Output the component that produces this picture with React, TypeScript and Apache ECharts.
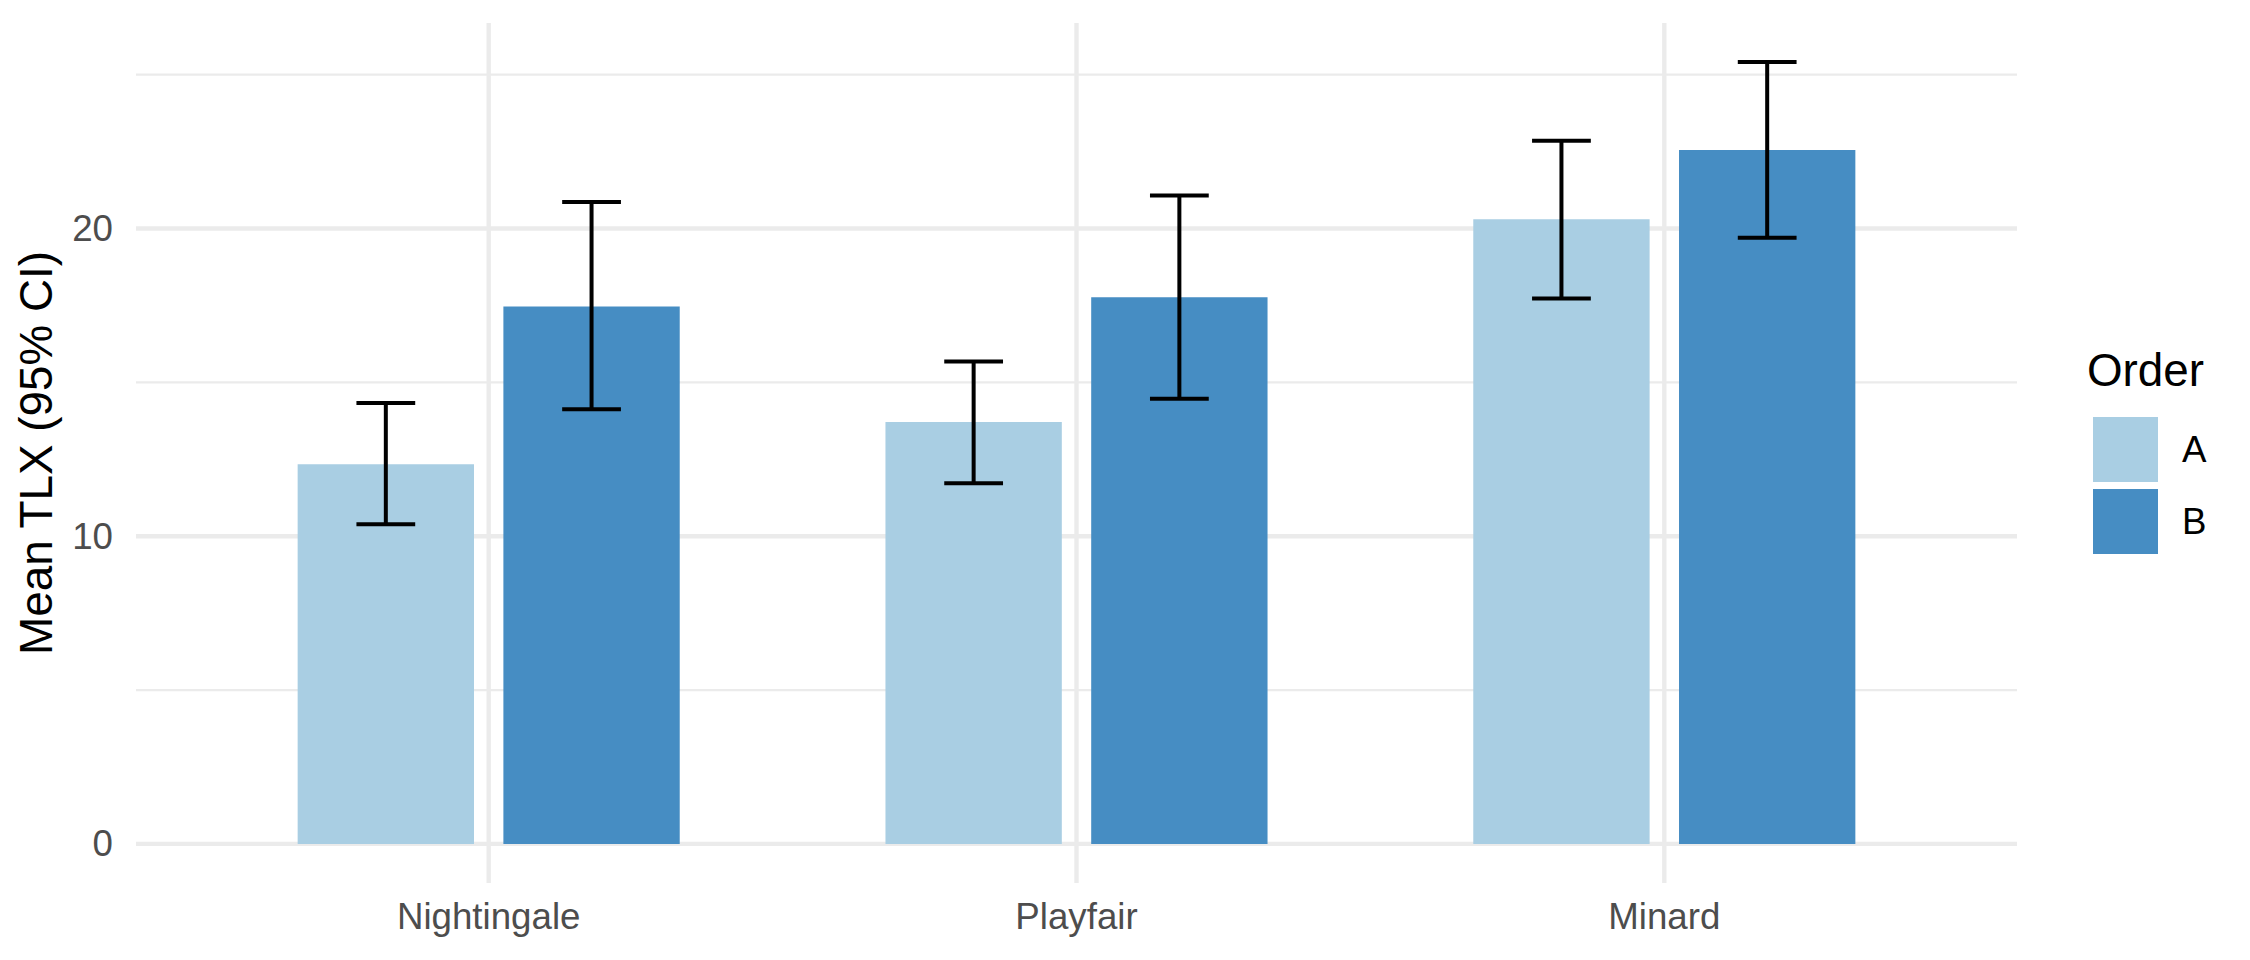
import React, { useEffect, useRef } from "react";
import * as echarts from "echarts";

const categories = ["Nightingale", "Playfair", "Minard"];
const groups = ["A", "B"];
const meanA = [12.34, 13.71, 20.3];
const lowA = [10.39, 11.72, 17.73];
const highA = [14.33, 15.68, 22.85];
const meanB = [17.47, 17.77, 22.55];
const lowB = [14.13, 14.47, 19.7];
const highB = [20.86, 21.07, 25.41];
const yMajorTicks = [0, 10, 20];
const yMinorTicks = [5, 15, 25];
const yMin = -1.27;
const yMax = 26.68;

const FONT = "'Liberation Sans', Arial, Helvetica, sans-serif";
const COLOR_A = "#A9CEE3";
const COLOR_B = "#468DC3";
const GRID_COLOR = "#EBEBEB";

const DODGE = 0.175;
const BAR_W = 0.3;
const CAP_W = 0.1;

export default function App() {
  const ref = useRef<HTMLDivElement>(null);
  useEffect(() => {
    if (!ref.current) return;
    const chart = echarts.init(ref.current, null, { renderer: "svg" });

    const hLine = (width: number) => (params: any, api: any) => {
      const cs = params.coordSys;
      const y = api.coord([1, api.value(1)])[1];
      return {
        type: "line",
        silent: true,
        shape: { x1: cs.x, y1: y, x2: cs.x + cs.width, y2: y },
        style: { stroke: GRID_COLOR, lineWidth: width },
      };
    };
    const vLine = (params: any, api: any) => {
      const cs = params.coordSys;
      const x = api.coord([api.value(0), 0])[0];
      return {
        type: "line",
        silent: true,
        shape: { x1: x, y1: cs.y, x2: x, y2: cs.y + cs.height },
        style: { stroke: GRID_COLOR, lineWidth: 4.4 },
      };
    };
    const barRender = (sign: number, color: string) => (params: any, api: any) => {
      const xv = api.value(0);
      const unit = api.size([1, 0])[0];
      const top = api.coord([xv, api.value(1)]);
      const base = api.coord([xv, 0]);
      const cx = top[0] + sign * DODGE * unit;
      const w = BAR_W * unit;
      return {
        type: "rect",
        shape: { x: cx - w / 2, y: top[1], width: w, height: base[1] - top[1] },
        style: { fill: color },
      };
    };
    const errRender = (sign: number) => (params: any, api: any) => {
      const xv = api.value(0);
      const unit = api.size([1, 0])[0];
      const lo = api.coord([xv, api.value(1)]);
      const hi = api.coord([xv, api.value(2)]);
      const cx = lo[0] + sign * DODGE * unit;
      const hw = (CAP_W * unit) / 2;
      const st = { stroke: "#000", lineWidth: 4 };
      return {
        type: "group",
        children: [
          { type: "line", shape: { x1: cx, y1: lo[1], x2: cx, y2: hi[1] }, style: st },
          { type: "line", shape: { x1: cx - hw, y1: lo[1], x2: cx + hw, y2: lo[1] }, style: st },
          { type: "line", shape: { x1: cx - hw, y1: hi[1], x2: cx + hw, y2: hi[1] }, style: st },
        ],
      };
    };

    const xPos = categories.map((_, i) => i + 1);

    chart.setOption({
      animation: false,
      textStyle: { fontFamily: FONT },
      grid: { left: 136, top: 23, width: 1881, height: 860, containLabel: false, outerBoundsMode: "none" },
      xAxis: {
        type: "value",
        min: 0.4,
        max: 3.6,
        axisLine: { show: false },
        axisTick: { show: false },
        splitLine: { show: false },
        axisLabel: {
          customValues: xPos,
          formatter: (v: number) => categories[Math.round(v) - 1] ?? "",
          color: "#4D4D4D",
          fontSize: 36.7,
          fontFamily: FONT,
          margin: 15,
        },
      },
      yAxis: {
        type: "value",
        min: yMin,
        max: yMax,
        name: "Mean TLX (95% CI)",
        nameLocation: "middle",
        nameGap: 77,
        nameTextStyle: { fontSize: 45.8, color: "#000", fontFamily: FONT },
        axisLine: { show: false },
        axisTick: { show: false },
        splitLine: { show: false },
        axisLabel: {
          customValues: yMajorTicks,
          color: "#4D4D4D",
          fontSize: 36.7,
          fontFamily: FONT,
          margin: 23,
        },
      },
      legend: {
        orient: "vertical",
        left: 2088,
        top: 412,
        itemWidth: 65,
        itemHeight: 65,
        itemGap: 7,
        icon: "rect",
        selectedMode: false,
        data: groups,
        textStyle: { fontSize: 36.7, color: "#000", fontFamily: FONT, padding: [0, 0, 0, 19] },
      },
      graphic: [
        {
          type: "text",
          left: 2087,
          top: 347,
          style: { text: "Order", fontSize: 45.8, fill: "#000", fontFamily: FONT },
        },
      ],
      series: [
        {
          type: "custom",
          silent: true,
          z: 1,
          renderItem: hLine(2.2),
          data: yMinorTicks.map((v) => [1, v]),
        },
        {
          type: "custom",
          silent: true,
          z: 1,
          renderItem: hLine(4.4),
          data: yMajorTicks.map((v) => [1, v]),
        },
        {
          type: "custom",
          silent: true,
          z: 1,
          renderItem: vLine,
          data: xPos.map((x) => [x, 0]),
        },
        {
          name: "A",
          type: "custom",
          z: 2,
          itemStyle: { color: COLOR_A },
          renderItem: barRender(-1, COLOR_A),
          data: meanA.map((v, i) => [xPos[i], v]),
        },
        {
          name: "B",
          type: "custom",
          z: 2,
          itemStyle: { color: COLOR_B },
          renderItem: barRender(1, COLOR_B),
          data: meanB.map((v, i) => [xPos[i], v]),
        },
        {
          type: "custom",
          z: 3,
          renderItem: errRender(-1),
          data: lowA.map((v, i) => [xPos[i], v, highA[i]]),
          encode: { x: 0, y: [1, 2] },
        },
        {
          type: "custom",
          z: 3,
          renderItem: errRender(1),
          data: lowB.map((v, i) => [xPos[i], v, highB[i]]),
          encode: { x: 0, y: [1, 2] },
        },
      ],
    });
    return () => chart.dispose();
  }, []);
  return (
    <div
      ref={ref}
      style={{ position: "absolute", left: 0, top: 0, width: 2250, height: 960, background: "#fff" }}
    />
  );
}
